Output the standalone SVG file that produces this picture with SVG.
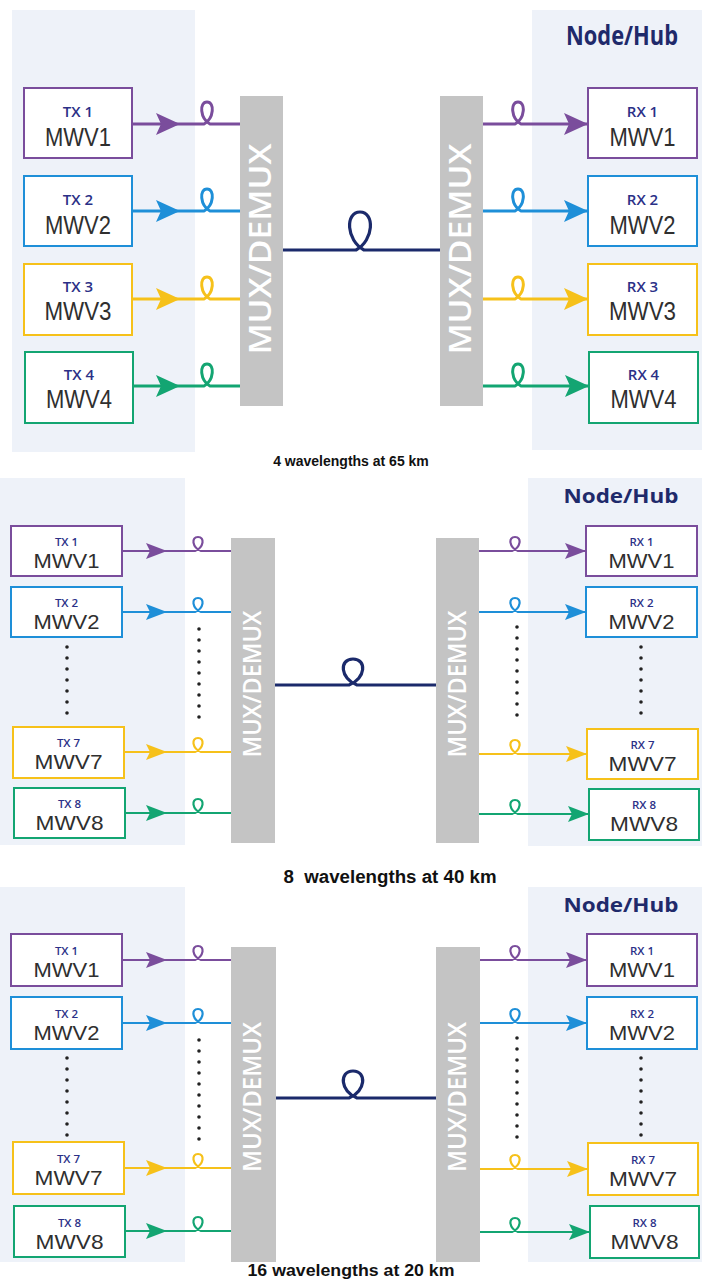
<svg xmlns="http://www.w3.org/2000/svg" width="702" height="1279" viewBox="0 0 702 1279">
<style>
.bg{fill:#eef2f9}
.mux{fill:#c4c4c4}
.muxt{fill:#fff;font-family:"Open Sans","DejaVu Sans",sans-serif;font-weight:600;text-anchor:middle}
.box{fill:#fff;stroke-width:2}
.pu{stroke:#7a4d9c}.bl{stroke:#1e8fd8}.ye{stroke:#f6c11a}.gr{stroke:#13a572}
.tx{fill:#2b3087;font-family:"Open Sans","DejaVu Sans",sans-serif;font-weight:600;text-anchor:middle}
.mw{fill:#2f2f2f;font-family:"Liberation Sans",Arial,sans-serif;text-anchor:middle}
.hub{fill:#1f2a6b;font-family:"Open Sans","DejaVu Sans",sans-serif;font-weight:700;text-anchor:middle}
.cap{fill:#111;font-family:"Liberation Sans",Arial,sans-serif;font-weight:700;text-anchor:middle;white-space:pre}
.c{fill:none}
.w3{stroke-width:3}.w2{stroke-width:2.2}
.fib{fill:none;stroke:#1b2a6b;stroke-width:3.2}
.dots{stroke:#222;stroke-width:3.6;stroke-linecap:round;stroke-dasharray:0 11;fill:none}
</style>
<defs>
<marker id="aLpu" markerUnits="userSpaceOnUse" markerWidth="24" markerHeight="22" refX="24" refY="11" orient="auto"><path d="M0,0 L24,11 L0,22 L5,11 z" fill="#7a4d9c"/></marker>
<marker id="aLbl" markerUnits="userSpaceOnUse" markerWidth="24" markerHeight="22" refX="24" refY="11" orient="auto"><path d="M0,0 L24,11 L0,22 L5,11 z" fill="#1e8fd8"/></marker>
<marker id="aLye" markerUnits="userSpaceOnUse" markerWidth="24" markerHeight="22" refX="24" refY="11" orient="auto"><path d="M0,0 L24,11 L0,22 L5,11 z" fill="#f6c11a"/></marker>
<marker id="aLgr" markerUnits="userSpaceOnUse" markerWidth="24" markerHeight="22" refX="24" refY="11" orient="auto"><path d="M0,0 L24,11 L0,22 L5,11 z" fill="#13a572"/></marker>
<marker id="aSpu" markerUnits="userSpaceOnUse" markerWidth="21" markerHeight="16" refX="21" refY="8" orient="auto"><path d="M0,0 L21,8 L0,16 L4,8 z" fill="#7a4d9c"/></marker>
<marker id="aSbl" markerUnits="userSpaceOnUse" markerWidth="21" markerHeight="16" refX="21" refY="8" orient="auto"><path d="M0,0 L21,8 L0,16 L4,8 z" fill="#1e8fd8"/></marker>
<marker id="aSye" markerUnits="userSpaceOnUse" markerWidth="21" markerHeight="16" refX="21" refY="8" orient="auto"><path d="M0,0 L21,8 L0,16 L4,8 z" fill="#f6c11a"/></marker>
<marker id="aSgr" markerUnits="userSpaceOnUse" markerWidth="21" markerHeight="16" refX="21" refY="8" orient="auto"><path d="M0,0 L21,8 L0,16 L4,8 z" fill="#13a572"/></marker>
</defs>

<g id="backgrounds">
<rect class="bg" x="12" y="10" width="183" height="442"/>
<rect class="bg" x="532" y="10" width="170" height="440"/>
<rect class="bg" x="0" y="478" width="185" height="367"/>
<rect class="bg" x="528" y="478" width="174" height="368"/>
<rect class="bg" x="0" y="887" width="185" height="375"/>
<rect class="bg" x="528" y="887" width="174" height="375"/>
</g>

<!-- ===== Panel 1 ===== -->
<g id="p1-hub"><text class="hub" x="622" y="45" font-size="26" font-weight="600" textLength="112" lengthAdjust="spacingAndGlyphs">Node/Hub</text></g>
<g id="p1-tx1"><rect class="box pu" x="24" y="88" width="108" height="70"/><text class="tx" x="78" y="117" font-size="15">TX 1</text><text class="mw" x="78" y="146" font-size="25" textLength="66" lengthAdjust="spacingAndGlyphs">MWV1</text></g>
<g id="p1-tx2"><rect class="box bl" x="24" y="176" width="108" height="70"/><text class="tx" x="78" y="205" font-size="15">TX 2</text><text class="mw" x="78" y="234" font-size="25" textLength="66" lengthAdjust="spacingAndGlyphs">MWV2</text></g>
<g id="p1-tx3"><rect class="box ye" x="24" y="264" width="108" height="71"/><text class="tx" x="78" y="292" font-size="15">TX 3</text><text class="mw" x="78" y="320" font-size="25" textLength="67" lengthAdjust="spacingAndGlyphs">MWV3</text></g>
<g id="p1-tx4"><rect class="box gr" x="25" y="352" width="108" height="71"/><text class="tx" x="79" y="380" font-size="15">TX 4</text><text class="mw" x="79" y="408" font-size="25" textLength="66" lengthAdjust="spacingAndGlyphs">MWV4</text></g>
<g id="p1-mux-l"><rect class="mux" x="240" y="96" width="43" height="310"/><text class="muxt" transform="translate(259.5,249) rotate(-90)" font-size="30" textLength="211" lengthAdjust="spacingAndGlyphs" style="dominant-baseline:central">MUX/DEMUX</text></g>
<g id="p1-mux-r"><rect class="mux" x="440" y="96" width="43" height="310"/><text class="muxt" transform="translate(459.5,249) rotate(-90)" font-size="30" textLength="211" lengthAdjust="spacingAndGlyphs" style="dominant-baseline:central">MUX/DEMUX</text></g>
<g id="p1-rx1"><rect class="box pu" x="588" y="88" width="109" height="70"/><text class="tx" x="642.5" y="117" font-size="15">RX 1</text><text class="mw" x="642.5" y="146" font-size="25" textLength="66" lengthAdjust="spacingAndGlyphs">MWV1</text></g>
<g id="p1-rx2"><rect class="box bl" x="588" y="176" width="109" height="70"/><text class="tx" x="642.5" y="205" font-size="15">RX 2</text><text class="mw" x="642.5" y="234" font-size="25" textLength="66" lengthAdjust="spacingAndGlyphs">MWV2</text></g>
<g id="p1-rx3"><rect class="box ye" x="588" y="264" width="109" height="71"/><text class="tx" x="642.5" y="292" font-size="15">RX 3</text><text class="mw" x="642.5" y="320" font-size="25" textLength="67" lengthAdjust="spacingAndGlyphs">MWV3</text></g>
<g id="p1-rx4"><rect class="box gr" x="589" y="352" width="109" height="71"/><text class="tx" x="643.5" y="380" font-size="15">RX 4</text><text class="mw" x="643.5" y="408" font-size="25" textLength="66" lengthAdjust="spacingAndGlyphs">MWV4</text></g>
<g id="p1-caption"><text class="cap" x="351" y="466" font-size="14">4 wavelengths at 65 km</text></g>

<!-- ===== Panel 2 ===== -->
<g id="p2-hub"><text class="hub" x="621" y="503" font-size="19" textLength="115" lengthAdjust="spacingAndGlyphs">Node/Hub</text></g>
<g id="p2-tx1"><rect class="box pu" x="11" y="526" width="111" height="50"/><text class="tx" x="66.5" y="545.5" font-size="11.5">TX 1</text><text class="mw" x="66.5" y="568" font-size="21" textLength="66" lengthAdjust="spacingAndGlyphs">MWV1</text></g>
<g id="p2-tx2"><rect class="box bl" x="11" y="587" width="111" height="50"/><text class="tx" x="66.5" y="606.5" font-size="11.5">TX 2</text><text class="mw" x="66.5" y="629" font-size="21" textLength="66" lengthAdjust="spacingAndGlyphs">MWV2</text></g>
<g id="p2-tx7"><rect class="box ye" x="13" y="727" width="111" height="51"/><text class="tx" x="68.5" y="746.5" font-size="11.5">TX 7</text><text class="mw" x="68.5" y="769" font-size="21" textLength="68" lengthAdjust="spacingAndGlyphs">MWV7</text></g>
<g id="p2-tx8"><rect class="box gr" x="14" y="788" width="111" height="50"/><text class="tx" x="69.5" y="807.5" font-size="11.5">TX 8</text><text class="mw" x="69.5" y="830" font-size="21" textLength="68" lengthAdjust="spacingAndGlyphs">MWV8</text></g>
<g id="p2-mux-l"><rect class="mux" x="231" y="538" width="44" height="305"/><text class="muxt" transform="translate(251,684) rotate(-90)" font-size="26" textLength="147" lengthAdjust="spacingAndGlyphs" style="dominant-baseline:central">MUX/DEMUX</text></g>
<g id="p2-mux-r"><rect class="mux" x="436" y="538" width="43" height="305"/><text class="muxt" transform="translate(455.5,684) rotate(-90)" font-size="26" textLength="147" lengthAdjust="spacingAndGlyphs" style="dominant-baseline:central">MUX/DEMUX</text></g>
<g id="p2-rx1"><rect class="box pu" x="586" y="526" width="111" height="50"/><text class="tx" x="641.5" y="545.5" font-size="11.5">RX 1</text><text class="mw" x="641.5" y="568" font-size="21" textLength="66" lengthAdjust="spacingAndGlyphs">MWV1</text></g>
<g id="p2-rx2"><rect class="box bl" x="586" y="587" width="111" height="50"/><text class="tx" x="641.5" y="606.5" font-size="11.5">RX 2</text><text class="mw" x="641.5" y="629" font-size="21" textLength="66" lengthAdjust="spacingAndGlyphs">MWV2</text></g>
<g id="p2-rx7"><rect class="box ye" x="587" y="729" width="111" height="50"/><text class="tx" x="642.5" y="748.5" font-size="11.5">RX 7</text><text class="mw" x="642.5" y="771" font-size="21" textLength="68" lengthAdjust="spacingAndGlyphs">MWV7</text></g>
<g id="p2-rx8"><rect class="box gr" x="589" y="789" width="110" height="51"/><text class="tx" x="644" y="808.5" font-size="11.5">RX 8</text><text class="mw" x="644" y="831" font-size="21" textLength="68" lengthAdjust="spacingAndGlyphs">MWV8</text></g>
<g id="p2-caption"><text class="cap" x="390" y="883" font-size="18" textLength="213" lengthAdjust="spacingAndGlyphs">8  wavelengths at 40 km</text></g>

<!-- ===== Panel 3 ===== -->
<g id="p3-hub"><text class="hub" x="621" y="912" font-size="19" textLength="115" lengthAdjust="spacingAndGlyphs">Node/Hub</text></g>
<g id="p3-tx1"><rect class="box pu" x="11" y="934" width="111" height="52"/><text class="tx" x="66.5" y="954.5" font-size="11.5">TX 1</text><text class="mw" x="66.5" y="977" font-size="21" textLength="66" lengthAdjust="spacingAndGlyphs">MWV1</text></g>
<g id="p3-tx2"><rect class="box bl" x="11" y="997" width="111" height="52"/><text class="tx" x="66.5" y="1017.5" font-size="11.5">TX 2</text><text class="mw" x="66.5" y="1040" font-size="21" textLength="66" lengthAdjust="spacingAndGlyphs">MWV2</text></g>
<g id="p3-tx7"><rect class="box ye" x="13" y="1142" width="111" height="52"/><text class="tx" x="68.5" y="1162.5" font-size="11.5">TX 7</text><text class="mw" x="68.5" y="1185" font-size="21" textLength="68" lengthAdjust="spacingAndGlyphs">MWV7</text></g>
<g id="p3-tx8"><rect class="box gr" x="14" y="1206" width="111" height="51"/><text class="tx" x="69.5" y="1226.5" font-size="11.5">TX 8</text><text class="mw" x="69.5" y="1249" font-size="21" textLength="68" lengthAdjust="spacingAndGlyphs">MWV8</text></g>
<g id="p3-mux-l"><rect class="mux" x="231" y="947" width="45" height="315"/><text class="muxt" transform="translate(251,1097) rotate(-90)" font-size="26" textLength="150" lengthAdjust="spacingAndGlyphs" style="dominant-baseline:central">MUX/DEMUX</text></g>
<g id="p3-mux-r"><rect class="mux" x="436" y="947" width="44" height="315"/><text class="muxt" transform="translate(456,1097) rotate(-90)" font-size="26" textLength="150" lengthAdjust="spacingAndGlyphs" style="dominant-baseline:central">MUX/DEMUX</text></g>
<g id="p3-rx1"><rect class="box pu" x="587" y="934" width="110" height="52"/><text class="tx" x="642" y="954.5" font-size="11.5">RX 1</text><text class="mw" x="642" y="977" font-size="21" textLength="66" lengthAdjust="spacingAndGlyphs">MWV1</text></g>
<g id="p3-rx2"><rect class="box bl" x="587" y="997" width="110" height="52"/><text class="tx" x="642" y="1017.5" font-size="11.5">RX 2</text><text class="mw" x="642" y="1040" font-size="21" textLength="66" lengthAdjust="spacingAndGlyphs">MWV2</text></g>
<g id="p3-rx7"><rect class="box ye" x="588" y="1143" width="110" height="52"/><text class="tx" x="643" y="1163.5" font-size="11.5">RX 7</text><text class="mw" x="643" y="1186" font-size="21" textLength="68" lengthAdjust="spacingAndGlyphs">MWV7</text></g>
<g id="p3-rx8"><rect class="box gr" x="590" y="1206" width="109" height="52"/><text class="tx" x="644.5" y="1226.5" font-size="11.5">RX 8</text><text class="mw" x="644.5" y="1249" font-size="21" textLength="68" lengthAdjust="spacingAndGlyphs">MWV8</text></g>
<g id="p3-caption"><text class="cap" x="351" y="1276" font-size="17" textLength="207" lengthAdjust="spacingAndGlyphs">16 wavelengths at 20 km</text></g>

<!-- ===== Connectors ===== -->
<g id="connectors">
<!-- panel 1 left -->
<path class="c w3 pu" d="M132,124 H180" marker-end="url(#aLpu)"/>
<path class="c w3 pu" d="M180,124 H204 C214,118.5 215,102 207,102 C199,102 200,118.5 210,124 H240"/>
<path class="c w3 bl" d="M132,211 H180" marker-end="url(#aLbl)"/>
<path class="c w3 bl" d="M180,211 H204 C214,205.5 215,189 207,189 C199,189 200,205.5 210,211 H240"/>
<path class="c w3 ye" d="M132,299 H180" marker-end="url(#aLye)"/>
<path class="c w3 ye" d="M180,299 H204 C214,293.5 215,277 207,277 C199,277 200,293.5 210,299 H240"/>
<path class="c w3 gr" d="M133,386 H180" marker-end="url(#aLgr)"/>
<path class="c w3 gr" d="M180,386 H204 C214,380.5 215,364 207,364 C199,364 200,380.5 210,386 H240"/>
<!-- panel 1 fiber -->
<path class="fib" d="M283,250 H356 C374,240.5 375,212 360,212 C345,212 346,240.5 364,250 H440"/>
<!-- panel 1 right -->
<path class="c w3 pu" d="M483,124 H515 C525,118.5 526,102 518,102 C510,102 511,118.5 521,124 H588" marker-end="url(#aLpu)"/>
<path class="c w3 bl" d="M483,211 H515 C525,205.5 526,189 518,189 C510,189 511,205.5 521,211 H588" marker-end="url(#aLbl)"/>
<path class="c w3 ye" d="M483,299 H515 C525,293.5 526,277 518,277 C510,277 511,293.5 521,299 H588" marker-end="url(#aLye)"/>
<path class="c w3 gr" d="M483,386 H515 C525,380.5 526,364 518,364 C510,364 511,380.5 521,386 H589" marker-end="url(#aLgr)"/>

<!-- panel 2 left -->
<path class="c w2 pu" d="M122,551 H167" marker-end="url(#aSpu)"/>
<path class="c w2 pu" d="M167,551 H195 C204,547.5 205,537 198,537 C191,537 192,547.5 201,551 H231"/>
<path class="c w2 bl" d="M122,612 H167" marker-end="url(#aSbl)"/>
<path class="c w2 bl" d="M167,612 H195 C204,608.5 205,598 198,598 C191,598 192,608.5 201,612 H231"/>
<path class="c w2 ye" d="M124,752 H167" marker-end="url(#aSye)"/>
<path class="c w2 ye" d="M167,752 H195 C204,748.5 205,738 198,738 C191,738 192,748.5 201,752 H231"/>
<path class="c w2 gr" d="M125,813 H167" marker-end="url(#aSgr)"/>
<path class="c w2 gr" d="M167,813 H195 C204,809.5 205,799 198,799 C191,799 192,809.5 201,813 H231"/>
<!-- panel 2 fiber -->
<path class="fib" d="M275,685 H349 C366,678.5 367,659 353,659 C339,659 340,678.5 357,685 H436"/>
<!-- panel 2 right -->
<path class="c w2 pu" d="M479,551 H512 C521,547.5 522,537 515,537 C508,537 509,547.5 518,551 H586" marker-end="url(#aSpu)"/>
<path class="c w2 bl" d="M479,612 H512 C521,608.5 522,598 515,598 C508,598 509,608.5 518,612 H586" marker-end="url(#aSbl)"/>
<path class="c w2 ye" d="M479,754 H512 C521,750.5 522,740 515,740 C508,740 509,750.5 518,754 H587" marker-end="url(#aSye)"/>
<path class="c w2 gr" d="M479,814 H512 C521,810.5 522,800 515,800 C508,800 509,810.5 518,814 H589" marker-end="url(#aSgr)"/>
<!-- panel 2 dots -->
<path class="dots" d="M199,629 V727"/>
<path class="dots" d="M67,647 V724"/>
<path class="dots" d="M517,627 V725"/>
<path class="dots" d="M641,647 V724"/>

<!-- panel 3 left -->
<path class="c w2 pu" d="M122,960 H167" marker-end="url(#aSpu)"/>
<path class="c w2 pu" d="M167,960 H195 C204,956.5 205,946 198,946 C191,946 192,956.5 201,960 H231"/>
<path class="c w2 bl" d="M122,1023 H167" marker-end="url(#aSbl)"/>
<path class="c w2 bl" d="M167,1023 H195 C204,1019.5 205,1009 198,1009 C191,1009 192,1019.5 201,1023 H231"/>
<path class="c w2 ye" d="M124,1168 H167" marker-end="url(#aSye)"/>
<path class="c w2 ye" d="M167,1168 H195 C204,1164.5 205,1154 198,1154 C191,1154 192,1164.5 201,1168 H231"/>
<path class="c w2 gr" d="M125,1231 H167" marker-end="url(#aSgr)"/>
<path class="c w2 gr" d="M167,1231 H195 C204,1227.5 205,1217 198,1217 C191,1217 192,1227.5 201,1231 H231"/>
<!-- panel 3 fiber -->
<path class="fib" d="M276,1098 H349 C366,1091.3 367,1071 353,1071 C339,1071 340,1091.3 357,1098 H436"/>
<!-- panel 3 right -->
<path class="c w2 pu" d="M480,960 H512 C521,956.5 522,946 515,946 C508,946 509,956.5 518,960 H587" marker-end="url(#aSpu)"/>
<path class="c w2 bl" d="M480,1023 H512 C521,1019.5 522,1009 515,1009 C508,1009 509,1019.5 518,1023 H587" marker-end="url(#aSbl)"/>
<path class="c w2 ye" d="M480,1169 H512 C521,1165.5 522,1155 515,1155 C508,1155 509,1165.5 518,1169 H588" marker-end="url(#aSye)"/>
<path class="c w2 gr" d="M480,1232 H512 C521,1228.5 522,1218 515,1218 C508,1218 509,1228.5 518,1232 H590" marker-end="url(#aSgr)"/>
<!-- panel 3 dots -->
<path class="dots" d="M199,1040 V1140"/>
<path class="dots" d="M67,1058 V1137"/>
<path class="dots" d="M517,1038 V1138"/>
<path class="dots" d="M641,1058 V1136"/>
</g>
</svg>
